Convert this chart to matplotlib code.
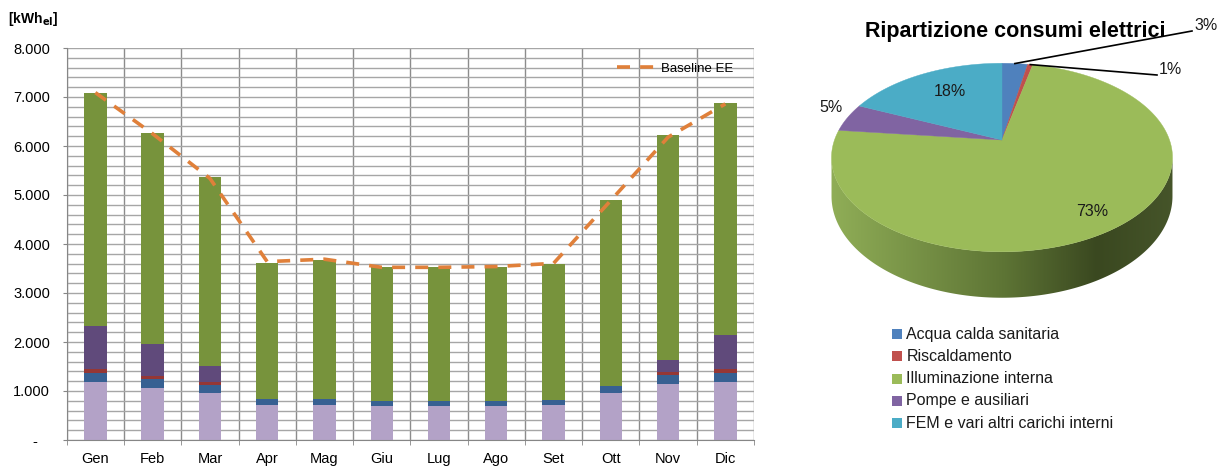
import numpy as np
import matplotlib
matplotlib.use('Agg')
import matplotlib.pyplot as plt
from matplotlib.patches import Polygon, Rectangle
from matplotlib.ticker import MultipleLocator, FuncFormatter, FixedLocator

# Dati mensili [kWh_el]
mesi = ['Gen', 'Feb', 'Mar', 'Apr', 'Mag', 'Giu', 'Lug', 'Ago', 'Set', 'Ott', 'Nov', 'Dic']
fem = [1190, 1068, 952, 707, 721, 694, 694, 694, 707, 952, 1143, 1190]
acqua = [177, 177, 164, 123, 109, 102, 102, 102, 109, 157, 184, 184]
risc = [75, 61, 61, 10, 0, 0, 0, 0, 0, 0, 54, 75]
pompe = [885, 660, 333, 0, 0, 0, 0, 0, 0, 0, 252, 694]
illum = [4748, 4299, 3850, 2772, 2850, 2728, 2728, 2728, 2784, 3782, 4585, 4741]
baseline = [7090, 6250, 5340, 3640, 3690, 3524, 3524, 3540, 3605, 4890, 6180, 6860]

nomi = ['Acqua calda sanitaria', 'Riscaldamento', 'Illuminazione interna',
        'Pompe e ausiliari', 'FEM e vari altri carichi interni']

# colori
col_fem = '#B3A2C7'
col_acqua = '#376092'
col_risc = '#953735'
col_pompe = '#604A7B'
col_illum = '#77933C'
col_base = '#E0803A'
col_torta = ['#4F81BD', '#C0504D', '#9BBB59', '#8064A2', '#4BACC6']
col_griglia = '#A6A6A6'

FONT = 'Liberation Sans'

W, H = 1218, 468
fig = plt.figure(figsize=(W / 100, H / 100), dpi=100)

# ---------------- grafico a barre ----------------
ax = fig.add_axes([66.7 / W, 1 - 440 / H, (754 - 66.7) / W, (440 - 48) / H])
x = np.arange(len(mesi))
larg = 0.39
fondo = np.zeros(len(mesi))
for vals, c in [(fem, col_fem), (acqua, col_acqua), (risc, col_risc),
                (pompe, col_pompe), (illum, col_illum)]:
    ax.bar(x, vals, larg, bottom=fondo, color=c, edgecolor='none', zorder=2)
    fondo += np.array(vals)

ax.plot(x, baseline, color=col_base, lw=2.6, dashes=(3.6, 2.8),
        solid_capstyle='butt', dash_capstyle='butt', zorder=3, label='Baseline EE')

ax.set_xlim(-0.5, len(mesi) - 0.5)
ax.set_ylim(0, 8000)
ax.yaxis.set_major_locator(MultipleLocator(1000))
ax.yaxis.set_minor_locator(MultipleLocator(200))
ax.yaxis.set_major_formatter(FuncFormatter(
    lambda v, p: '-   ' if v == 0 else f'{int(v):,}'.replace(',', '.')))
ax.set_xticks(x)
ax.set_xticklabels(mesi)
ax.xaxis.set_minor_locator(FixedLocator(np.arange(-0.5, len(mesi), 1.0)))

ax.grid(which='both', axis='y', color=col_griglia, lw=1.0, zorder=0)
ax.grid(which='minor', axis='x', color='#8C8C8C', lw=1.0, zorder=0)
ax.set_axisbelow(True)
for s in ['top', 'right']:
    ax.spines[s].set_visible(False)
for s in ['left', 'bottom']:
    ax.spines[s].set_color('#868686')
ax.tick_params(axis='y', which='major', length=3, color='#868686', pad=9,
               labelsize=10.5, labelfontfamily=FONT)
ax.tick_params(axis='y', which='minor', length=0)
ax.tick_params(axis='x', which='major', length=0, pad=8.5,
               labelsize=10.5, labelfontfamily=FONT)
ax.tick_params(axis='x', which='minor', length=3.5, color='#868686')

leg = ax.legend(loc='center left', bbox_to_anchor=(617 / W, 1 - 69 / H),
                bbox_transform=fig.transFigure, frameon=False, borderpad=0,
                borderaxespad=0, handlelength=2.9, handletextpad=0.45,
                prop={'family': FONT, 'size': 9.5})

fig.text(8 / W, 1 - 19 / H, r'[kWh$_{\mathbf{el}}$]', fontsize=10,
         fontweight='bold', family=FONT, ha='left', va='center')

# ---------------- torta 3D ----------------
axp = fig.add_axes([0, 0, 1, 1], zorder=-1)
axp.set_xlim(0, W)
axp.set_ylim(H, 0)
axp.axis('off')

quote = np.array([sum(acqua), sum(risc), sum(illum), sum(pompe), sum(fem)], float)
frazioni = quote / quote.sum()

X0, Y0, A, B, K, PROF = 1002, 140, 167.5, 91.0, 0.186, 37.4


def proj(theta, giu=0.0):
    u = np.sin(theta)
    v = -np.cos(theta)
    s = 1.0 / (1.0 - K * v)
    return X0 + A * u * s, Y0 + B * v * s + giu * s


# fianco visibile (solo la parte anteriore), sfumato da sinistra a destra
th_dx = np.arccos(-K)
th_sx = 2 * np.pi - th_dx
ths = np.linspace(th_dx, th_sx, 300)
xt, yt = proj(ths)
xb, yb = proj(ths[::-1], PROF)
fianco = Polygon(np.column_stack([np.r_[xt, xb], np.r_[yt, yb]]), closed=True,
                 facecolor='none', edgecolor='none')
axp.add_patch(fianco)
xmin, xmax = xt.min() - 2, xt.max() + 2
uu = np.linspace(-1, 1, 400)
cols = np.array([[0x90, 0xAE, 0x57], [0x5E, 0x75, 0x35],
                 [0x3A, 0x48, 0x20], [0x46, 0x55, 0x2A]]) / 255
grad = np.stack([np.interp(uu, [-1.0, 0.0, 0.55, 1.0], cols[:, i]) for i in range(3)], -1)
img = axp.imshow(grad[None, :, :], extent=(xmin, xmax, 330, 100), aspect='auto',
                 interpolation='bilinear', zorder=1)
img.set_clip_path(fianco)
axp.set_xlim(0, W)
axp.set_ylim(H, 0)

# facce superiori
cum = np.concatenate([[0], np.cumsum(frazioni)]) * 2 * np.pi
for i in range(len(frazioni)):
    tt = np.linspace(cum[i], cum[i + 1], max(3, int(400 * frazioni[i])))
    xs, ys = proj(tt)
    pts = [(X0, Y0)] + list(zip(xs, ys))
    axp.add_patch(Polygon(pts, closed=True, facecolor=col_torta[i],
                          edgecolor=col_torta[i], lw=0.3, zorder=2))

# etichette percentuali
etich = [f'{round(f * 100):.0f}%' for f in frazioni]
pos_etich = [(1194, 26), (1159, 70), (1092, 212), (831, 108), (950, 92)]
allin = ['left', 'left', 'center', 'center', 'center']
for i, (lab, (px, py)) in enumerate(zip(etich, pos_etich)):
    axp.text(px, py, lab, ha=allin[i], va='center', fontsize=11.5,
             family=FONT, color='#1A1A1A', zorder=4)
# linee guida per le fette piccole
for i, (ex, ey) in zip([0, 1], [(1192, 31), (1157, 75)]):
    mx, my = proj((cum[i] + cum[i + 1]) / 2)
    axp.plot([mx, ex], [my, ey], color='black', lw=1.2, zorder=3)

axp.text(1015, 32, 'Ripartizione consumi elettrici', ha='center', va='center',
         fontsize=15.5, fontweight='bold', family=FONT, zorder=3)

# legenda torta
for i, (nome, c) in enumerate(zip(nomi, col_torta)):
    yy = 334 + i * 22.3
    axp.add_patch(Rectangle((892, yy - 5), 10, 10, facecolor=c, edgecolor='none'))
    axp.text(906.5, yy, nome, ha='left', va='center', fontsize=11.5,
             family=FONT, color='#1A1A1A')

fig.savefig('out.png', dpi=100)
